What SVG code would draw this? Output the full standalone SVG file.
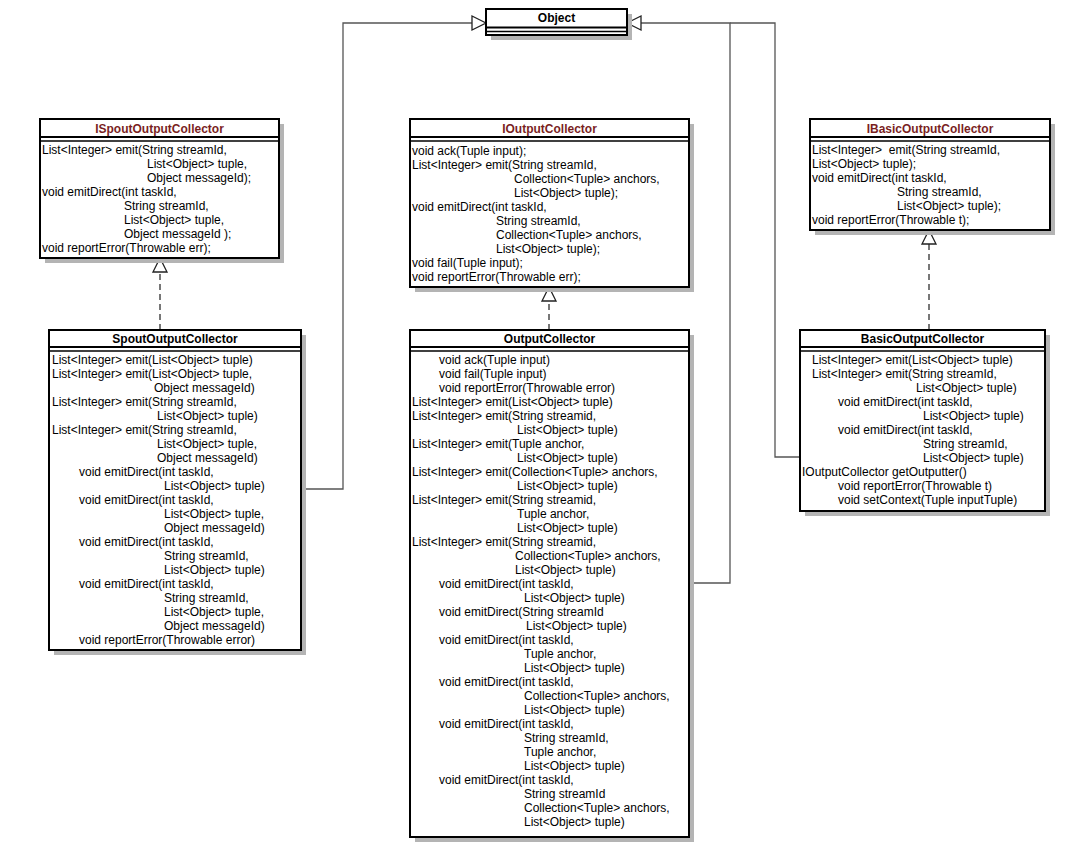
<svg xmlns="http://www.w3.org/2000/svg" width="1082" height="860" viewBox="0 0 1082 860">
<defs>
<style>
.sh{fill:#b4b4b4}
.bx{fill:#fff;stroke:#000;stroke-width:2}
.sep{stroke:#000;stroke-width:2}
.sep2{stroke:#000;stroke-width:1.5}
.t{font-family:"Liberation Sans",Arial,sans-serif;font-size:12px;fill:#000;white-space:pre}
.h{font-family:"Liberation Sans",Arial,sans-serif;font-size:12px;font-weight:bold;text-anchor:middle;fill:#000}
.hi{fill:#7a1f1f}
.c{fill:none;stroke:#555;stroke-width:1.3}
.d{fill:none;stroke:#777;stroke-width:2;stroke-dasharray:6,4}
.tri{fill:#fff;stroke:#222;stroke-width:1.3}
</style>
</defs>
<rect width="1082" height="860" fill="#fff"/>

<g id="connectors">
<polyline class="c" points="301,489 343,489 343,23 472,23"/>
<polyline class="c" points="689,583 730,583 730,23 641,23"/>
<polyline class="c" points="800,457 775,457 775,23 730,23"/>
<polygon class="tri" points="486,23 472,16 472,30"/>
<polygon class="tri" points="627,23 641,16 641,30"/>
<line class="d" x1="160" y1="330" x2="160" y2="272"/>
<polygon class="tri" points="160,258 153,272 167,272"/>
<line class="d" x1="549" y1="330" x2="549" y2="301"/>
<polygon class="tri" points="549,287 542,301 556,301"/>
<line class="d" x1="929" y1="330" x2="929" y2="244"/>
<polygon class="tri" points="929,230 922,244 936,244"/>
</g>

<g id="object">
<rect class="sh" x="491" y="14" width="141" height="26"/>
<rect class="bx" x="486" y="9" width="141" height="26"/>
<line class="sep" x1="486" y1="27.5" x2="627" y2="27.5"/>
<line class="sep2" x1="486" y1="31.5" x2="627" y2="31.5"/>
<text class="h" x="556.5" y="22">Object</text>
</g>

<g id="ISpoutOutputCollector">
<rect class="sh" x="45" y="124" width="239" height="139"/>
<rect class="bx" x="40" y="119" width="239" height="139"/>
<line class="sep" x1="40" y1="137" x2="279" y2="137"/>
<line class="sep2" x1="40" y1="141" x2="279" y2="141"/>
<text class="h hi" x="159.5" y="133">ISpoutOutputCollector</text>
<text class="t" x="42" y="154">List&lt;Integer&gt; emit(String streamId,</text>
<text class="t" x="147" y="168">List&lt;Object&gt; tuple,</text>
<text class="t" x="147" y="182">Object messageId);</text>
<text class="t" x="42" y="196">void emitDirect(int taskId,</text>
<text class="t" x="124" y="210">String streamId,</text>
<text class="t" x="124" y="224">List&lt;Object&gt; tuple,</text>
<text class="t" x="124" y="238">Object messageId );</text>
<text class="t" x="42" y="252">void reportError(Throwable err);</text>
</g>

<g id="IOutputCollector">
<rect class="sh" x="415" y="124" width="279" height="168"/>
<rect class="bx" x="410" y="119" width="279" height="168"/>
<line class="sep" x1="410" y1="137" x2="689" y2="137"/>
<line class="sep2" x1="410" y1="141" x2="689" y2="141"/>
<text class="h hi" x="549.5" y="133">IOutputCollector</text>
<text class="t" x="412" y="155">void ack(Tuple input);</text>
<text class="t" x="412" y="169">List&lt;Integer&gt; emit(String streamId,</text>
<text class="t" x="514" y="183">Collection&lt;Tuple&gt; anchors,</text>
<text class="t" x="514" y="197">List&lt;Object&gt; tuple);</text>
<text class="t" x="412" y="211">void emitDirect(int taskId,</text>
<text class="t" x="496" y="225">String streamId,</text>
<text class="t" x="496" y="239">Collection&lt;Tuple&gt; anchors,</text>
<text class="t" x="496" y="253">List&lt;Object&gt; tuple);</text>
<text class="t" x="412" y="267">void fail(Tuple input);</text>
<text class="t" x="412" y="281">void reportError(Throwable err);</text>
</g>

<g id="IBasicOutputCollector">
<rect class="sh" x="815" y="124" width="240" height="111"/>
<rect class="bx" x="810" y="119" width="240" height="111"/>
<line class="sep" x1="810" y1="137" x2="1050" y2="137"/>
<line class="sep2" x1="810" y1="141" x2="1050" y2="141"/>
<text class="h hi" x="930" y="133">IBasicOutputCollector</text>
<text class="t" x="812" y="154">List&lt;Integer&gt;&#160; emit(String streamId,</text>
<text class="t" x="812" y="168">List&lt;Object&gt; tuple);</text>
<text class="t" x="812" y="182">void emitDirect(int taskId,</text>
<text class="t" x="897" y="196">String streamId,</text>
<text class="t" x="897" y="210">List&lt;Object&gt; tuple);</text>
<text class="t" x="812" y="224">void reportError(Throwable t);</text>
</g>

<g id="SpoutOutputCollector">
<rect class="sh" x="54" y="335" width="252" height="320"/>
<rect class="bx" x="49" y="330" width="252" height="320"/>
<line class="sep" x1="49" y1="347" x2="301" y2="347"/>
<line class="sep2" x1="49" y1="351" x2="301" y2="351"/>
<text class="h" x="175" y="343">SpoutOutputCollector</text>
<text class="t" x="52" y="364">List&lt;Integer&gt; emit(List&lt;Object&gt; tuple)</text>
<text class="t" x="52" y="378">List&lt;Integer&gt; emit(List&lt;Object&gt; tuple,</text>
<text class="t" x="154" y="392">Object messageId)</text>
<text class="t" x="52" y="406">List&lt;Integer&gt; emit(String streamId,</text>
<text class="t" x="157" y="420">List&lt;Object&gt; tuple)</text>
<text class="t" x="52" y="434">List&lt;Integer&gt; emit(String streamId,</text>
<text class="t" x="157" y="448">List&lt;Object&gt; tuple,</text>
<text class="t" x="157" y="462">Object messageId)</text>
<text class="t" x="79" y="476">void emitDirect(int taskId,</text>
<text class="t" x="164" y="490">List&lt;Object&gt; tuple)</text>
<text class="t" x="79" y="504">void emitDirect(int taskId,</text>
<text class="t" x="164" y="518">List&lt;Object&gt; tuple,</text>
<text class="t" x="164" y="532">Object messageId)</text>
<text class="t" x="79" y="546">void emitDirect(int taskId,</text>
<text class="t" x="164" y="560">String streamId,</text>
<text class="t" x="164" y="574">List&lt;Object&gt; tuple)</text>
<text class="t" x="79" y="588">void emitDirect(int taskId,</text>
<text class="t" x="164" y="602">String streamId,</text>
<text class="t" x="164" y="616">List&lt;Object&gt; tuple,</text>
<text class="t" x="164" y="630">Object messageId)</text>
<text class="t" x="79" y="644">void reportError(Throwable error)</text>
</g>

<g id="OutputCollector">
<rect class="sh" x="415" y="335" width="279" height="507"/>
<rect class="bx" x="410" y="330" width="279" height="507"/>
<line class="sep" x1="410" y1="347" x2="689" y2="347"/>
<line class="sep2" x1="410" y1="351" x2="689" y2="351"/>
<text class="h" x="549.5" y="343">OutputCollector</text>
<text class="t" x="439" y="364">void ack(Tuple input)</text>
<text class="t" x="439" y="378">void fail(Tuple input)</text>
<text class="t" x="439" y="392">void reportError(Throwable error)</text>
<text class="t" x="412" y="406">List&lt;Integer&gt; emit(List&lt;Object&gt; tuple)</text>
<text class="t" x="412" y="420">List&lt;Integer&gt; emit(String streamid,</text>
<text class="t" x="517" y="434">List&lt;Object&gt; tuple)</text>
<text class="t" x="412" y="448">List&lt;Integer&gt; emit(Tuple anchor,</text>
<text class="t" x="517" y="462">List&lt;Object&gt; tuple)</text>
<text class="t" x="412" y="476">List&lt;Integer&gt; emit(Collection&lt;Tuple&gt; anchors,</text>
<text class="t" x="517" y="490">List&lt;Object&gt; tuple)</text>
<text class="t" x="412" y="504">List&lt;Integer&gt; emit(String streamid,</text>
<text class="t" x="517" y="518">Tuple anchor,</text>
<text class="t" x="517" y="532">List&lt;Object&gt; tuple)</text>
<text class="t" x="412" y="546">List&lt;Integer&gt; emit(String streamid,</text>
<text class="t" x="515" y="560">Collection&lt;Tuple&gt; anchors,</text>
<text class="t" x="515" y="574">List&lt;Object&gt; tuple)</text>
<text class="t" x="439" y="588">void emitDirect(int taskId,</text>
<text class="t" x="524" y="602">List&lt;Object&gt; tuple)</text>
<text class="t" x="439" y="616">void emitDirect(String streamId</text>
<text class="t" x="526" y="630">List&lt;Object&gt; tuple)</text>
<text class="t" x="439" y="644">void emitDirect(int taskId,</text>
<text class="t" x="524" y="658">Tuple anchor,</text>
<text class="t" x="524" y="672">List&lt;Object&gt; tuple)</text>
<text class="t" x="439" y="686">void emitDirect(int taskId,</text>
<text class="t" x="524" y="700">Collection&lt;Tuple&gt; anchors,</text>
<text class="t" x="524" y="714">List&lt;Object&gt; tuple)</text>
<text class="t" x="439" y="728">void emitDirect(int taskId,</text>
<text class="t" x="524" y="742">String streamId,</text>
<text class="t" x="524" y="756">Tuple anchor,</text>
<text class="t" x="524" y="770">List&lt;Object&gt; tuple)</text>
<text class="t" x="439" y="784">void emitDirect(int taskId,</text>
<text class="t" x="524" y="798">String streamId</text>
<text class="t" x="524" y="812">Collection&lt;Tuple&gt; anchors,</text>
<text class="t" x="524" y="826">List&lt;Object&gt; tuple)</text>
</g>

<g id="BasicOutputCollector">
<rect class="sh" x="805" y="335" width="245" height="181"/>
<rect class="bx" x="800" y="330" width="245" height="181"/>
<line class="sep" x1="800" y1="347" x2="1045" y2="347"/>
<line class="sep2" x1="800" y1="351" x2="1045" y2="351"/>
<text class="h" x="922.5" y="343">BasicOutputCollector</text>
<text class="t" x="812" y="364">List&lt;Integer&gt; emit(List&lt;Object&gt; tuple)</text>
<text class="t" x="812" y="378">List&lt;Integer&gt; emit(String streamId,</text>
<text class="t" x="916" y="392">List&lt;Object&gt; tuple)</text>
<text class="t" x="838" y="406">void emitDirect(int taskId,</text>
<text class="t" x="923" y="420">List&lt;Object&gt; tuple)</text>
<text class="t" x="838" y="434">void emitDirect(int taskId,</text>
<text class="t" x="923" y="448">String streamId,</text>
<text class="t" x="923" y="462">List&lt;Object&gt; tuple)</text>
<text class="t" x="802" y="476">IOutputCollector getOutputter()</text>
<text class="t" x="838" y="490">void reportError(Throwable t)</text>
<text class="t" x="838" y="504">void setContext(Tuple inputTuple)</text>
</g>
</svg>
